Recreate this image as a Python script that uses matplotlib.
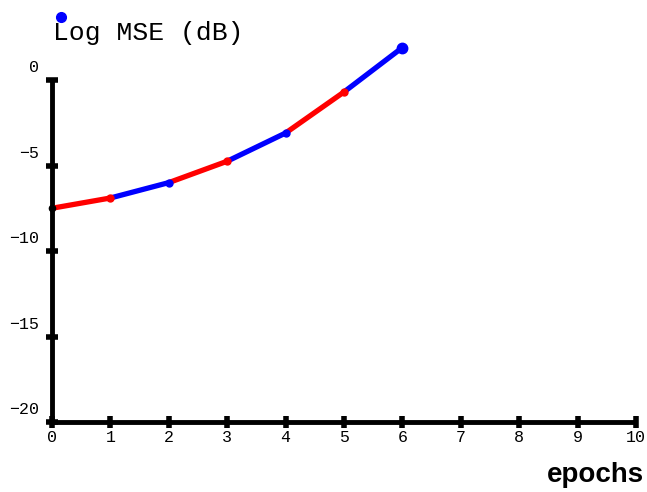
import matplotlib
matplotlib.use("Agg")
import matplotlib.pyplot as plt
from matplotlib.transforms import ScaledTranslation

epochs = [0, 1, 2, 3, 4, 5, 6]
log_mse = [-7.5, -6.9, -6.0, -4.75, -3.1, -0.7, 1.9]
seg_colors = ["red", "blue", "red", "blue", "red", "blue"]
xticks = list(range(0, 11))
yticks = [0, -5, -10, -15, -20]

fig = plt.figure(figsize=(6.47, 4.92), dpi=100)
ax = fig.add_axes([52/647, 70/492, 584/647, 342/492])
ax.set_xlim(0, 10)
ax.set_ylim(-20, 0)

for i, c in enumerate(seg_colors):
    ax.plot(epochs[i:i+2], log_mse[i:i+2], color=c, lw=3.8,
            solid_capstyle="butt", clip_on=False, zorder=3)
    ax.plot(epochs[i+1], log_mse[i+1], "o", color=c, ms=5, clip_on=False, zorder=4)
ax.plot(epochs[0], log_mse[0], "o", color="black", ms=4.5, clip_on=False, zorder=4)
ax.plot(epochs[-1], log_mse[-1], "o", color="blue", ms=7.5, clip_on=False, zorder=4)

for s in ["top", "right"]:
    ax.spines[s].set_visible(False)
for s in ["left", "bottom"]:
    ax.spines[s].set_linewidth(3.5)
    ax.spines[s].set_capstyle("butt")

ax.set_xticks(xticks)
ax.set_yticks(yticks)
ax.tick_params(direction="inout", length=8, width=4, colors="black")
ax.tick_params(axis="x", pad=2)
ax.tick_params(axis="y", pad=5)
for lab in ax.get_xticklabels() + ax.get_yticklabels():
    lab.set_fontfamily("Liberation Mono")
    lab.set_fontsize(12)
for lab in ax.get_yticklabels():
    lab.set_transform(lab.get_transform() + ScaledTranslation(0, 10/72, fig.dpi_scale_trans))

fig.text(53/647, 1 - 33/492, "Log MSE (dB)", fontfamily="Liberation Mono",
         fontsize=19, ha="left", va="center")
fig.text(595/647, 1 - 475/492, "epochs", fontfamily="Liberation Sans",
         fontweight="bold", fontsize=20, ha="center", va="center")
fig.add_artist(plt.Line2D([61/647], [1 - 17/492], marker="o", color="blue",
                          ms=7, transform=fig.transFigure))

fig.savefig("out.png", dpi=100)
